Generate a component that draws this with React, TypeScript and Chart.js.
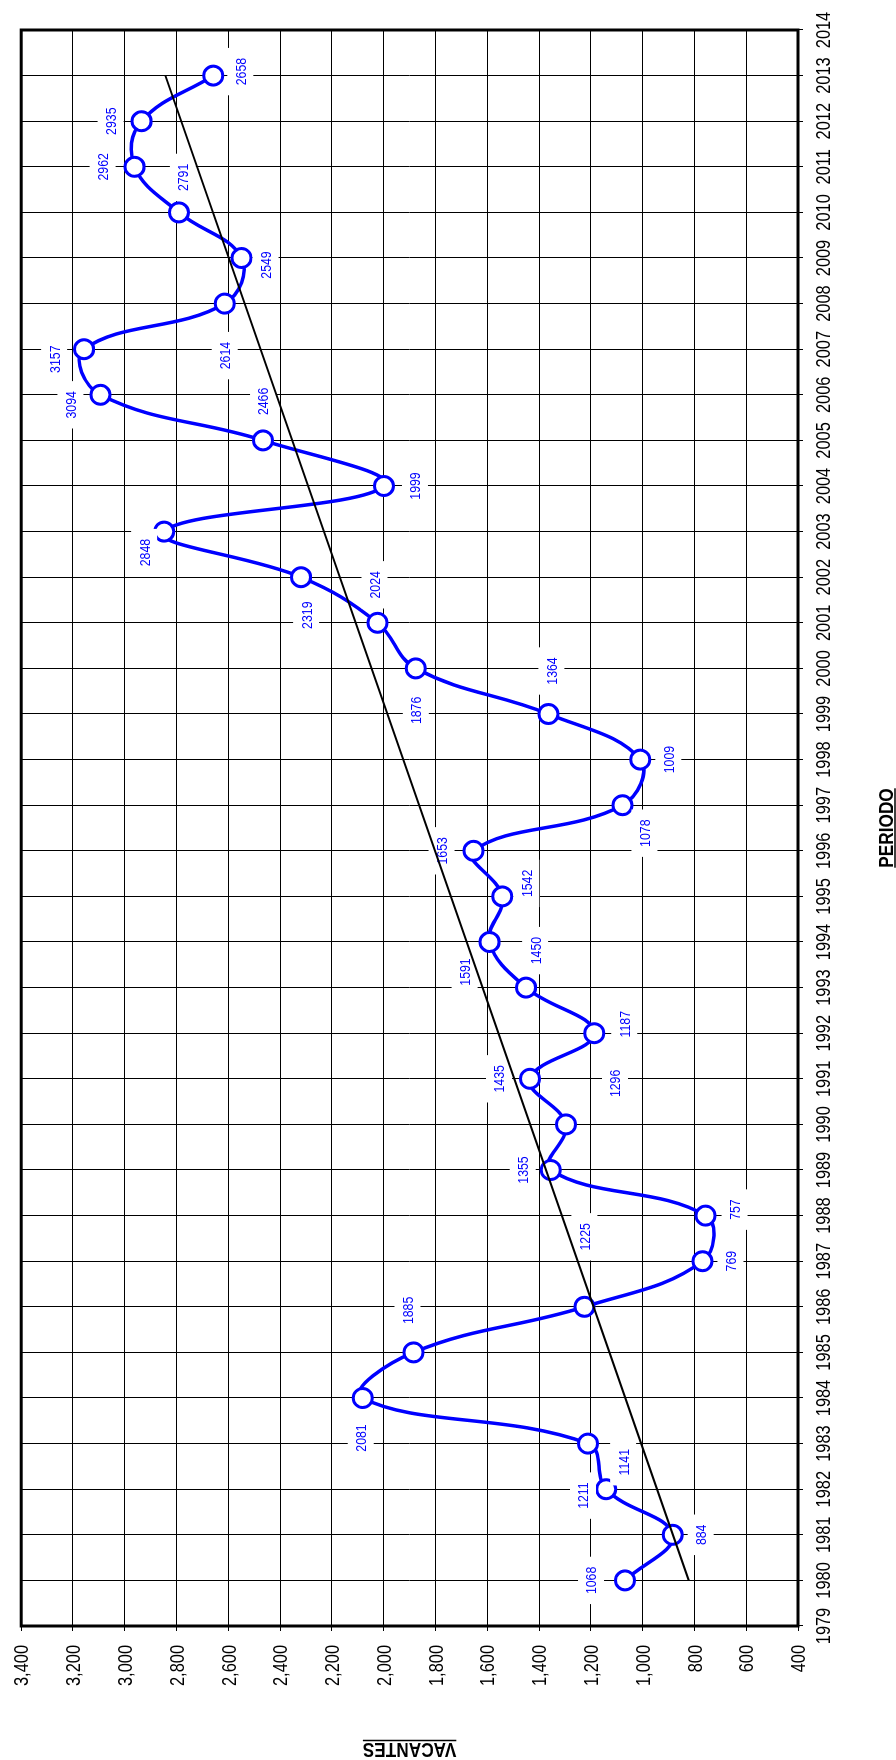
import { useEffect, useRef } from 'react';
import { Chart, registerables } from 'chart.js';

Chart.register(...registerables);

// ---- data ----
const years: number[] = [
  1980, 1981, 1982, 1983, 1984, 1985, 1986, 1987, 1988, 1989, 1990, 1991,
  1992, 1993, 1994, 1995, 1996, 1997, 1998, 1999, 2000, 2001, 2002, 2003,
  2004, 2005, 2006, 2007, 2008, 2009, 2010, 2011, 2012, 2013,
];
const vacantes: number[] = [
  1068, 884, 1141, 1211, 2081, 1885, 1225, 769, 757, 1355, 1296, 1435,
  1187, 1450, 1591, 1542, 1653, 1078, 1009, 1364, 1876, 2024, 2319, 2848,
  1999, 2466, 3094, 3157, 2614, 2549, 2791, 2962, 2935, 2658,
];
// linear trend line end points
const trendYears: number[] = [1980, 2013];
const trendValues: number[] = [822, 2843];

const xTitle = 'PERIODO';
const yTitle = 'VACANTES';
const xMin = 1979;
const xMax = 2014;
const yMin = 400;
const yMax = 3400;
const yStep = 200;

// label placement relative to each point (chart px, [along x, along y])
const labelOffsets: [number, number][] = [
  [0, -34], [0, 28], [27, 17], [-52, -5], [-40, -2], [42, -6], [70, 0],
  [0, 28], [6, 29], [0, -28], [41, 49], [0, -31], [9, 30], [37, 9],
  [-30, -25], [13, 24], [0, -32], [-28, 22], [0, 28], [43, 3], [-42, 0],
  [38, -3], [-38, 5], [-21, -20], [0, 31], [39, 0], [-10, -30], [-10, -30],
  [-52, 0], [-7, 24], [35, 4], [0, -32], [0, -31], [4, 27],
];

const FONT = '"Liberation Sans", Arial, Helvetica, sans-serif';
const NARROW = 0.82; // horizontal condensation to imitate Arial Narrow
const W = 1760;
const H = 896;

function narrowText(
  ctx: CanvasRenderingContext2D,
  text: string,
  x: number,
  y: number,
  align: CanvasTextAlign,
) {
  ctx.save();
  ctx.translate(x, y);
  ctx.scale(NARROW, 1);
  ctx.textAlign = align;
  ctx.fillText(text, 0, 0);
  ctx.restore();
}

export default function App() {
  const ref = useRef<HTMLCanvasElement>(null);

  useEffect(() => {
    const canvas = ref.current;
    if (!canvas) return;

    const framePlugin = {
      id: 'frame',
      beforeDatasetsDraw(chart: any) {
        const { left, top, right, bottom } = chart.chartArea;
        const ctx = chart.ctx;
        ctx.save();
        ctx.lineWidth = 3;
        ctx.strokeStyle = '#000';
        ctx.strokeRect(left, top, right - left, bottom - top);
        ctx.restore();
      },
    };

    const labelPlugin = {
      id: 'valueLabels',
      afterDatasetDraw(chart: any, args: any) {
        if (args.index !== 0) return;
        const ctx = chart.ctx;
        ctx.save();
        ctx.font = `15px ${FONT}`;
        ctx.textBaseline = 'alphabetic';
        args.meta.data.forEach((pt: any, i: number) => {
          const off = labelOffsets[i] || [0, -30];
          const cx = pt.x + off[0];
          const cy = pt.y + off[1];
          const text = String(vacantes[i]);
          const w = ctx.measureText(text).width * NARROW;
          ctx.fillStyle = '#ffffff';
          ctx.fillRect(cx - w / 2 - 10, cy - 13, w + 20, 26);
          ctx.fillStyle = '#0000ff';
          narrowText(ctx, text, cx, cy + 5.4, 'center');
        });
        ctx.restore();
      },
    };

    const textPlugin = {
      id: 'axisText',
      afterDraw(chart: any) {
        const ctx = chart.ctx;
        const { left, right, top, bottom } = chart.chartArea;
        const xs = chart.scales.x;
        const ys = chart.scales.y;
        ctx.save();
        ctx.fillStyle = '#000';
        ctx.strokeStyle = '#000';
        ctx.textBaseline = 'alphabetic';
        // tick labels
        ctx.font = `20px ${FONT}`;
        xs.ticks.forEach((t: any) => {
          const px = xs.getPixelForValue(t.value);
          narrowText(ctx, String(t.value), px, bottom + 32, 'center');
        });
        ys.ticks.forEach((t: any) => {
          const py = ys.getPixelForValue(t.value);
          narrowText(ctx, Number(t.value).toLocaleString('en-US'), left - 19, py + 7.2, 'right');
        });
        // x title
        ctx.font = `bold 21px ${FONT}`;
        const cx = (left + right) / 2;
        const wx = ctx.measureText(xTitle).width * NARROW;
        narrowText(ctx, xTitle, cx, 893, 'center');
        ctx.lineWidth = 1.5;
        ctx.beginPath();
        ctx.moveTo(cx - wx / 2, 895);
        ctx.lineTo(cx + wx / 2, 895);
        ctx.stroke();
        // y title
        const cy = (top + bottom) / 2;
        const wy = ctx.measureText(yTitle).width * NARROW;
        ctx.translate(17, cy);
        ctx.rotate(-Math.PI / 2);
        narrowText(ctx, yTitle, 0, 0, 'center');
        ctx.beginPath();
        ctx.moveTo(-wy / 2, 2.5);
        ctx.lineTo(wy / 2, 2.5);
        ctx.stroke();
        ctx.restore();
      },
    };

    const chart = new Chart(canvas, {
      type: 'line',
      data: {
        datasets: [
          {
            label: 'Vacantes',
            data: years.map((y, i) => ({ x: y, y: vacantes[i] })),
            borderColor: '#0000ff',
            borderWidth: 3.5,
            tension: 0.4,
            pointRadius: 9.5,
            pointBorderWidth: 3,
            pointBackgroundColor: '#ffffff',
            pointBorderColor: '#0000ff',
            order: 1,
          },
          {
            label: 'Tendencia',
            data: trendYears.map((y, i) => ({ x: y, y: trendValues[i] })),
            borderColor: '#000000',
            borderWidth: 2,
            tension: 0,
            pointRadius: 0,
            order: 0,
          },
        ],
      },
      options: {
        responsive: false,
        maintainAspectRatio: false,
        animation: false,
        devicePixelRatio: 1,
        events: [],
        layout: { padding: { top: 17, right: 30, left: 0, bottom: 0 } },
        plugins: {
          legend: { display: false },
          tooltip: { enabled: false },
          title: { display: false },
        },
        scales: {
          x: {
            type: 'linear',
            position: 'bottom',
            min: xMin,
            max: xMax,
            afterFit: (s: any) => {
              s.height = 98;
            },
            ticks: {
              stepSize: 1,
              autoSkip: false,
              maxRotation: 0,
              minRotation: 0,
              padding: 8,
              color: 'rgba(0,0,0,0)',
              font: { family: FONT, size: 12 },
              callback: (v: any) => String(v),
            },
            grid: { color: '#000', lineWidth: 1, tickLength: 5, drawTicks: true },
            border: { display: false },
          },
          y: {
            type: 'linear',
            min: yMin,
            max: yMax,
            afterFit: (s: any) => {
              s.width = 134;
            },
            ticks: {
              stepSize: yStep,
              padding: 14,
              color: 'rgba(0,0,0,0)',
              font: { family: FONT, size: 12 },
              callback: (v: any) => Number(v).toLocaleString('en-US'),
            },
            grid: { color: '#000', lineWidth: 1, tickLength: 5, drawTicks: true },
            border: { display: false },
          },
        },
      },
      plugins: [framePlugin, labelPlugin, textPlugin],
    } as any);

    return () => chart.destroy();
  }, []);

  return (
    <div
      style={{
        position: 'absolute',
        left: 0,
        top: 0,
        width: H,
        height: W,
        overflow: 'hidden',
        background: '#fff',
      }}
    >
      <canvas
        ref={ref}
        width={W}
        height={H}
        style={{
          position: 'absolute',
          left: 0,
          top: 0,
          width: W,
          height: H,
          transformOrigin: '0 0',
          transform: `translate(0px, ${W}px) rotate(-90deg)`,
        }}
      />
    </div>
  );
}
